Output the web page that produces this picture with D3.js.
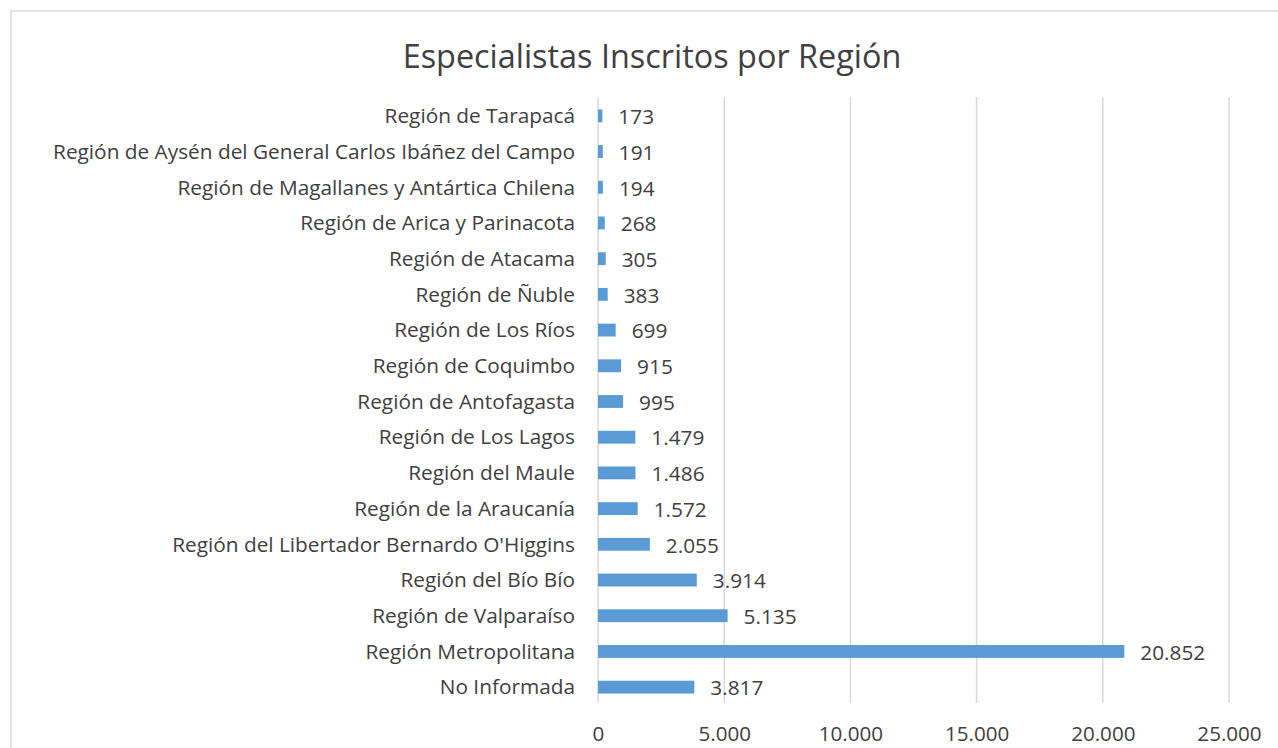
<!DOCTYPE html>
<html>
<head>
<meta charset="utf-8">
<script src="https://cdn.jsdelivr.net/npm/d3@7"></script>
<style>
  body { margin: 0; background: #fff; }
  text { font-family: "Open Sans", sans-serif; fill: #404040; }
</style>
</head>
<body>
<div id="chart"></div>
<script>
// Categories from top to bottom, as in the chart
const regions = [
  "Región de Tarapacá",
  "Región de Aysén del General Carlos Ibáñez del Campo",
  "Región de Magallanes y Antártica Chilena",
  "Región de Arica y Parinacota",
  "Región de Atacama",
  "Región de Ñuble",
  "Región de Los Ríos",
  "Región de Coquimbo",
  "Región de Antofagasta",
  "Región de Los Lagos",
  "Región del Maule",
  "Región de la Araucanía",
  "Región del Libertador Bernardo O'Higgins",
  "Región del Bío Bío",
  "Región de Valparaíso",
  "Región Metropolitana",
  "No Informada"
];
const specialists = [173, 191, 194, 268, 305, 383, 699, 915, 995, 1479, 1486, 1572, 2055, 3914, 5135, 20852, 3817];
const xTicks = [0, 5000, 10000, 15000, 20000, 25000];

const width = 1278;
const height = 748;
const margin = { top: 97, right: 49, bottom: 45, left: 598 };

const svg = d3.select("#chart")
  .append("svg")
  .attr("width", width)
  .attr("height", height);

// Chart area border
svg.append("rect")
  .attr("x", 11).attr("y", 11)
  .attr("width", width + 20).attr("height", height + 20)
  .attr("fill", "none")
  .attr("stroke", "#d9d9d9")
  .attr("stroke-width", 1.5);

// Title
svg.append("text")
  .attr("x", 652).attr("y", 68)
  .attr("text-anchor", "middle")
  .style("font-size", "32.4px")
  .text("Especialistas Inscritos por Región");

const x = d3.scaleLinear().domain([0, 25000]).range([margin.left, 1229]);
const y = d3.scaleBand().domain(regions).range([98, 705]).paddingInner(0.64).paddingOuter(0.32);

const fmt = d3.formatLocale({ decimal: ",", thousands: ".", grouping: [3], currency: ["", ""] }).format(",d");

// Gridlines
svg.append("g")
  .selectAll("line")
  .data(xTicks)
  .join("line")
  .attr("x1", d => x(d)).attr("x2", d => x(d))
  .attr("y1", margin.top).attr("y2", 703)
  .attr("stroke", "#d9d9d9")
  .attr("stroke-width", 1.5);

// Bars
svg.append("g")
  .selectAll("rect")
  .data(specialists)
  .join("rect")
  .attr("x", x(0))
  .attr("y", (d, i) => y(regions[i]))
  .attr("width", d => x(d) - x(0))
  .attr("height", y.bandwidth())
  .attr("fill", "#5b9bd5");

// Value labels
svg.append("g")
  .selectAll("text")
  .data(specialists)
  .join("text")
  .attr("x", d => x(d) + 16)
  .attr("y", (d, i) => y(regions[i]) + y.bandwidth() / 2 + 1)
  .attr("dy", "0.35em")
  .style("font-size", "20.8px")
  .text(d => fmt(d));

// Category labels
svg.append("g")
  .selectAll("text")
  .data(regions)
  .join("text")
  .attr("x", 575)
  .attr("y", d => y(d) + y.bandwidth() / 2)
  .attr("dy", "0.35em")
  .attr("text-anchor", "end")
  .style("font-size", "20.8px")
  .text(d => d);

// X axis labels
const xAxis = d3.axisBottom(x).tickValues(xTicks).tickSize(0).tickPadding(0).tickFormat(fmt);
svg.append("g")
  .attr("transform", `translate(0, 726)`)
  .call(xAxis)
  .call(g => g.select(".domain").remove())
  .call(g => g.selectAll("text").style("font-size", "20.6px").style("font-family", "\"Open Sans\", sans-serif").attr("fill", "#404040"));
</script>
</body>
</html>
